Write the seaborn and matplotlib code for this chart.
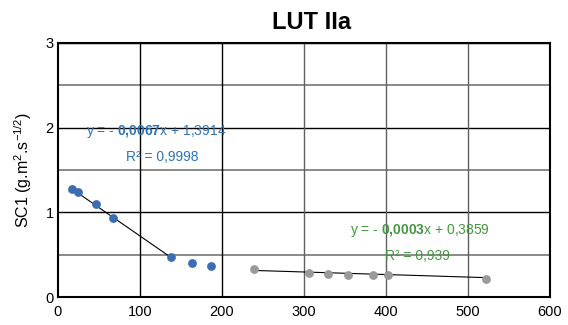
import numpy as np
import pandas as pd
import matplotlib
matplotlib.use("Agg")
import matplotlib.pyplot as plt
import seaborn as sns

# blue series (first part of the curve)
x_blue = [17, 24, 46, 67, 138, 163, 187]
y_blue = [1.275, 1.236, 1.102, 0.936, 0.468, 0.404, 0.366]
# gray series (second part)
x_gray = [239, 306, 330, 354, 384, 402, 522]
y_gray = [0.327, 0.287, 0.272, 0.257, 0.257, 0.257, 0.216]

# trendline coefficients as printed on the chart
blue_fit = (-0.0067, 1.3914, 0.9998)
gray_fit = (-0.0003, 0.3859, 0.939)
n_blue_fit = 5  # the blue trendline only covers the first 5 points

x_ticks = [0, 100, 200, 300, 400, 500, 600]
y_ticks = [0, 1, 2, 3]

blue_pts = "#3c6db4"
blue_txt = "#2e75b6"
gray_pts = "#9a9a9a"
green_txt = "#43983e"

sns.set_theme(style="white")
plt.rcParams["font.family"] = ["Liberation Sans", "DejaVu Sans"]
plt.rcParams["mathtext.fontset"] = "custom"
plt.rcParams["mathtext.rm"] = "Liberation Sans"
plt.rcParams["mathtext.bf"] = "Liberation Sans:bold"
plt.rcParams["text.color"] = "black"
plt.rcParams["axes.labelcolor"] = "black"

fig = plt.figure(figsize=(5.68, 3.25), dpi=100)
ax = fig.add_axes([0.102, 0.086, 0.866, 0.782])

df_b = pd.DataFrame({"x": x_blue, "y": y_blue})
df_g = pd.DataFrame({"x": x_gray, "y": y_gray})

# trend lines
xb = np.array([x_blue[0], x_blue[n_blue_fit - 1]])
ax.plot(xb, blue_fit[0] * xb + blue_fit[1], color="black", lw=0.8, zorder=3)
xg = np.array([x_gray[0], x_gray[-1]])
ax.plot(xg, gray_fit[0] * xg + gray_fit[1], color="black", lw=0.8, zorder=3)

sns.scatterplot(data=df_b, x="x", y="y", ax=ax, color=blue_pts, s=40,
                edgecolor=blue_pts, linewidth=0, zorder=4)
sns.scatterplot(data=df_g, x="x", y="y", ax=ax, color=gray_pts, s=40,
                edgecolor=gray_pts, linewidth=0, zorder=4)

ax.set_xlim(0, 600)
ax.set_ylim(0, 3)
ax.set_xticks(x_ticks)
ax.set_yticks(y_ticks)
ax.set_yticks([0.5, 1.5, 2.5], minor=True)
ax.tick_params(axis="both", which="both", length=0, labelsize=10.5, colors="black")
ax.tick_params(axis="x", pad=6)
ax.tick_params(axis="y", pad=3)

# gridlines: darker on 100/200 and whole units, gray on the others
ax.grid(axis="y", which="major", color="black", lw=1.0)
ax.grid(axis="y", which="minor", color="#808080", lw=1.3)
for t in x_ticks[1:-1]:
    ax.axvline(t, color="black" if t <= 200 else "#606060", lw=1.0, zorder=1)
ax.set_axisbelow(True)

for sp in ax.spines.values():
    sp.set_color("black")
    sp.set_linewidth(1.5)

ax.set_xlabel("")
ax.set_ylabel(r"SC1 (g.m$^{2}$.s$^{-1/2}$)", fontsize=11.5, labelpad=8)

fig.text(0.548, 0.932, "LUT IIa", ha="center", va="center",
         fontsize=17, fontweight="bold", color="black")

# trendline equations
eq_size = 10
ax.text(120, 1.95, r"y = - $\mathbf{0{,}0067}$x + 1,3914", color=blue_txt,
        fontsize=eq_size, ha="center", va="center")
ax.text(127, 1.65, "R² = 0,9998", color=blue_txt,
        fontsize=eq_size, ha="center", va="center")
ax.text(441, 0.78, r"y = - $\mathbf{0{,}0003}$x + 0,3859", color=green_txt,
        fontsize=eq_size, ha="center", va="center")
ax.text(438, 0.48, "R² = 0,939", color=green_txt,
        fontsize=eq_size, ha="center", va="center")

fig.savefig("out.png", dpi=100)
